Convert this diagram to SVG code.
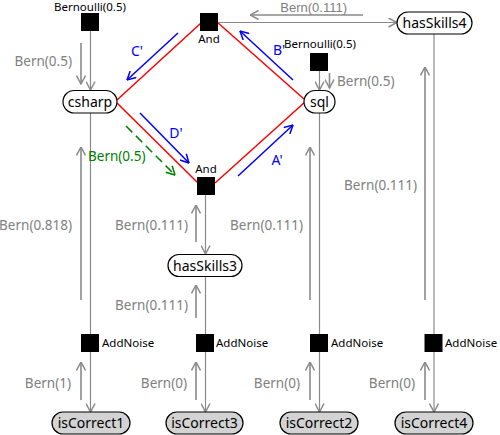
<svg xmlns="http://www.w3.org/2000/svg" width="500" height="435" viewBox="0 0 500 435">
<style>
.edge{stroke:#8a8a8a;stroke-width:1.2;fill:none}
.msg{stroke:#8a8a8a;stroke-width:1.6;fill:none}
.red{stroke:#ff0000;stroke-width:1.5;fill:none}
.blue{stroke:#0000ff;stroke-width:1.5;fill:none}
.green{stroke:#008000;stroke-width:1.5;fill:none;stroke-dasharray:9,5}
.var{fill:#ffffff;stroke:#000;stroke-width:1.2}
.obs{fill:#d3d3d3;stroke:#000;stroke-width:1.2}
.fac{fill:#000}
.nt{font-family:"Noto Sans",sans-serif;font-size:14px;fill:#000;text-anchor:middle}
.ft{font-family:"Noto Sans",sans-serif;font-size:11.5px;fill:#000}
.gl{font-family:"Noto Sans",sans-serif;font-size:13.5px;fill:#808080}
.bl{font-family:"Noto Sans",sans-serif;font-size:14px;fill:#0000ff;text-anchor:middle}
.gr{font-family:"Noto Sans",sans-serif;font-size:13.5px;fill:#008000}
</style>
<defs>
<marker id="ag" viewBox="0 0 10 10" refX="9.5" refY="5" markerWidth="10" markerHeight="10" orient="auto" markerUnits="userSpaceOnUse"><path d="M1,0.5 L9.5,5 L1,9.5" fill="none" stroke="#8a8a8a" stroke-width="1.5"/></marker>
<marker id="ab" viewBox="0 0 10 10" refX="9.5" refY="5" markerWidth="10" markerHeight="10" orient="auto" markerUnits="userSpaceOnUse"><path d="M1,0.5 L9.5,5 L1,9.5" fill="none" stroke="#0000ff" stroke-width="1.5"/></marker>
<marker id="agr" viewBox="0 0 10 10" refX="9.5" refY="5" markerWidth="10" markerHeight="10" orient="auto" markerUnits="userSpaceOnUse"><path d="M1,0.5 L9.5,5 L1,9.5" fill="none" stroke="#008000" stroke-width="1.5"/></marker>
</defs>
<g id="connectors">
<line class="red" x1="117" y1="100" x2="201" y2="23"/>
<line class="red" x1="117" y1="103" x2="198" y2="183"/>
<line class="red" x1="215" y1="183" x2="305" y2="102"/>
<line class="red" x1="217" y1="22" x2="304" y2="99"/>
<line class="blue" x1="178" y1="33" x2="127" y2="80" marker-end="url(#ab)"/>
<line class="blue" x1="140" y1="113" x2="189" y2="163" marker-end="url(#ab)"/>
<line class="blue" x1="293" y1="80" x2="240" y2="31" marker-end="url(#ab)"/>
<line class="blue" x1="238" y1="176" x2="293" y2="125" marker-end="url(#ab)"/>
<line class="green" x1="126" y1="126" x2="175" y2="175" marker-end="url(#agr)"/>
<line class="edge" x1="90.5" y1="31" x2="90.5" y2="90" marker-end="url(#ag)"/>
<line class="msg" x1="81" y1="43" x2="81" y2="84" marker-end="url(#ag)"/>
<line class="edge" x1="90.5" y1="113" x2="90.5" y2="334"/>
<line class="msg" x1="81" y1="300" x2="81" y2="147" marker-end="url(#ag)"/>
<line class="edge" x1="90.5" y1="352" x2="90.5" y2="412" marker-end="url(#ag)"/>
<line class="msg" x1="81" y1="400" x2="81" y2="362" marker-end="url(#ag)"/>
<line class="edge" x1="205.5" y1="195" x2="205.5" y2="254" marker-end="url(#ag)"/>
<line class="msg" x1="196" y1="242" x2="196" y2="205" marker-end="url(#ag)"/>
<line class="edge" x1="205.5" y1="276" x2="205.5" y2="334"/>
<line class="msg" x1="196" y1="318" x2="196" y2="285" marker-end="url(#ag)"/>
<line class="edge" x1="205.5" y1="352" x2="205.5" y2="412" marker-end="url(#ag)"/>
<line class="msg" x1="196" y1="400" x2="196" y2="362" marker-end="url(#ag)"/>
<line class="edge" x1="319.5" y1="71" x2="319.5" y2="90" marker-end="url(#ag)"/>
<line class="msg" x1="329.5" y1="73" x2="329.5" y2="88" marker-end="url(#ag)"/>
<line class="edge" x1="319.5" y1="113" x2="319.5" y2="334"/>
<line class="msg" x1="310" y1="300" x2="310" y2="147" marker-end="url(#ag)"/>
<line class="edge" x1="319.5" y1="352" x2="319.5" y2="412" marker-end="url(#ag)"/>
<line class="msg" x1="310" y1="400" x2="310" y2="362" marker-end="url(#ag)"/>
<line class="edge" x1="218" y1="22.5" x2="397" y2="22.5" marker-end="url(#ag)"/>
<line class="msg" x1="363" y1="15" x2="250" y2="15" marker-end="url(#ag)"/>
<line class="edge" x1="434" y1="34" x2="434" y2="334"/>
<line class="msg" x1="425" y1="300" x2="425" y2="67" marker-end="url(#ag)"/>
<line class="edge" x1="434" y1="352" x2="434" y2="412" marker-end="url(#ag)"/>
<line class="msg" x1="425" y1="400" x2="425" y2="362" marker-end="url(#ag)"/>
</g>
<g id="connector-labels">
<text class="bl" x="137" y="56">C'</text>
<text class="bl" x="176" y="138">D'</text>
<text class="bl" x="279" y="55">B'</text>
<text class="bl" x="277" y="165">A'</text>
<text class="gr" x="88" y="161">Bern(0.5)</text>
<text class="gl" x="72" y="66" text-anchor="end">Bern(0.5)</text>
<text class="gl" x="72" y="230" text-anchor="end">Bern(0.818)</text>
<text class="gl" x="71" y="388" text-anchor="end">Bern(1)</text>
<text class="gl" x="188" y="230" text-anchor="end">Bern(0.111)</text>
<text class="gl" x="188" y="310" text-anchor="end">Bern(0.111)</text>
<text class="gl" x="187" y="388" text-anchor="end">Bern(0)</text>
<text class="gl" x="303" y="230" text-anchor="end">Bern(0.111)</text>
<text class="gl" x="300" y="388" text-anchor="end">Bern(0)</text>
<text class="gl" x="337" y="86">Bern(0.5)</text>
<text class="gl" x="417" y="190" text-anchor="end">Bern(0.111)</text>
<text class="gl" x="415" y="388" text-anchor="end">Bern(0)</text>
<text class="gl" x="347" y="12" text-anchor="end" style="font-family:'Liberation Sans',sans-serif;font-size:13px">Bern(0.111)</text>
</g>
<g id="bern1"><rect class="fac" x="81" y="13" width="18" height="18"/><text class="ft" x="90" y="11" text-anchor="middle">Bernoulli(0.5)</text></g>
<g id="csharp"><rect class="var" x="63" y="90.5" width="54" height="22.5" rx="11.25"/><text class="nt" x="90" y="106.5">csharp</text></g>
<g id="and1"><rect class="fac" x="200" y="13" width="18" height="18"/><text class="ft" x="209" y="43" text-anchor="middle">And</text></g>
<g id="and2"><rect class="fac" x="197" y="177" width="18" height="18"/><text class="ft" x="206" y="173" text-anchor="middle">And</text></g>
<g id="bern2"><rect class="fac" x="310" y="53" width="18" height="18"/><text class="ft" x="320" y="48" text-anchor="middle">Bernoulli(0.5)</text></g>
<g id="sql"><rect class="var" x="304" y="90.5" width="31" height="22.5" rx="11.25"/><text class="nt" x="319.5" y="106.5">sql</text></g>
<g id="hasSkills4"><rect class="var" x="397" y="12" width="75" height="22" rx="11"/><text class="nt" x="434.5" y="28">hasSkills4</text></g>
<g id="hasSkills3"><rect class="var" x="168" y="254.5" width="74" height="22" rx="11"/><text class="nt" x="205" y="270.5">hasSkills3</text></g>
<g id="addnoise1"><rect class="fac" x="81" y="334" width="18" height="18"/><text class="ft" x="102" y="347">AddNoise</text></g>
<g id="addnoise2"><rect class="fac" x="196" y="334" width="18" height="18"/><text class="ft" x="216" y="347">AddNoise</text></g>
<g id="addnoise3"><rect class="fac" x="310" y="334" width="18" height="18"/><text class="ft" x="331" y="347">AddNoise</text></g>
<g id="addnoise4"><rect class="fac" x="424.5" y="334" width="18" height="18"/><text class="ft" x="445" y="347">AddNoise</text></g>
<g id="isCorrect1"><rect class="obs" x="52" y="412" width="78" height="22" rx="11"/><text class="nt" x="91" y="428">isCorrect1</text></g>
<g id="isCorrect3"><rect class="obs" x="166" y="412" width="77" height="22" rx="11"/><text class="nt" x="204.5" y="428">isCorrect3</text></g>
<g id="isCorrect2"><rect class="obs" x="280" y="412" width="78" height="22" rx="11"/><text class="nt" x="319" y="428">isCorrect2</text></g>
<g id="isCorrect4"><rect class="obs" x="395" y="412" width="78" height="22" rx="11"/><text class="nt" x="434" y="428">isCorrect4</text></g>
</svg>
